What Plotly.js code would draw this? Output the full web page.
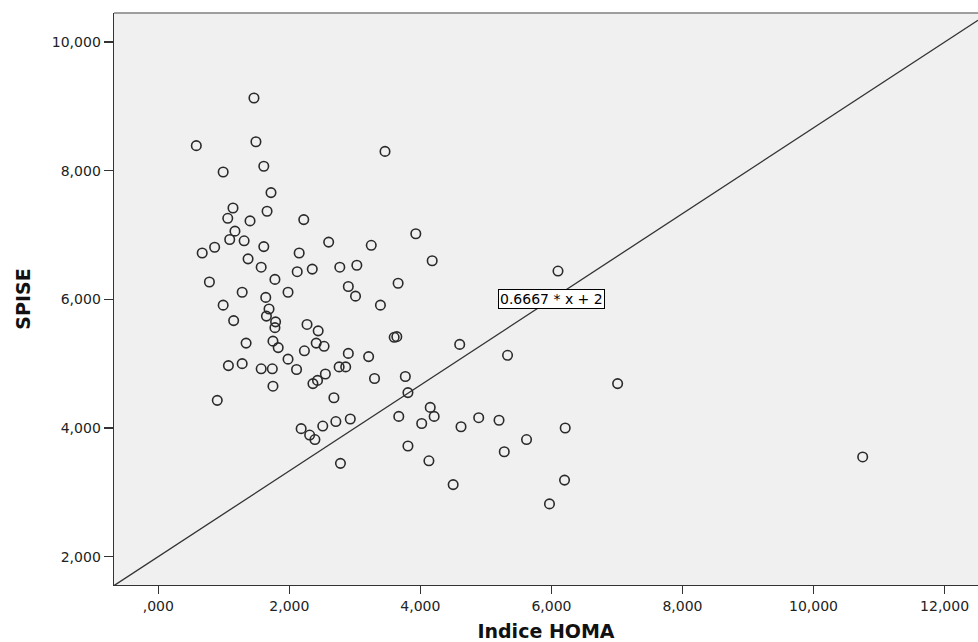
<!DOCTYPE html>
<html>
<head>
<meta charset="utf-8">
<script src="https://cdn.plot.ly/plotly-3.0.1.min.js"></script>
<style>
html,body{margin:0;padding:0;background:#fff;}
#chart{width:978px;height:642px;}
</style>
</head>
<body>
<div id="chart"></div>
<script>
// Indice HOMA (x) values
const homa = [
  1.46, 0.58, 1.49, 0.99, 1.61, 1.72, 1.14, 1.66, 1.06, 1.40,
  2.22, 1.17, 1.09, 1.31, 1.61, 0.86, 0.67, 2.15, 1.37, 1.57,
  2.12, 2.35, 1.78, 0.78, 3.46, 2.60, 3.93, 3.25, 2.77, 3.03,
  4.18, 2.90, 3.66, 3.01, 3.39, 2.27, 2.44, 3.60, 3.64, 1.28,
  1.98, 1.64, 0.99, 1.69, 1.65, 1.79, 1.78, 1.15, 1.34, 1.75,
  1.83, 2.23, 1.98, 1.07, 1.28, 1.57, 1.74, 2.11, 1.75, 0.90,
  2.18, 2.31, 4.60, 2.41, 2.53, 2.90, 3.21, 2.76, 2.86, 2.55,
  2.43, 2.36, 3.30, 3.77, 3.81, 2.68, 4.15, 4.21, 3.67, 4.02,
  4.62, 2.51, 2.71, 2.93, 2.39, 3.81, 2.78, 4.13, 4.50, 6.10,
  5.33, 7.01, 4.89, 5.20, 6.21, 5.62, 5.28, 6.20, 5.97, 10.75
];
// SPISE (y) values
const spise = [
  9.13, 8.39, 8.45, 7.98, 8.07, 7.66, 7.42, 7.37, 7.26, 7.22,
  7.24, 7.06, 6.93, 6.91, 6.82, 6.81, 6.72, 6.72, 6.63, 6.50,
  6.43, 6.47, 6.31, 6.27, 8.30, 6.89, 7.02, 6.84, 6.50, 6.53,
  6.60, 6.20, 6.25, 6.05, 5.91, 5.61, 5.51, 5.41, 5.42, 6.11,
  6.11, 6.03, 5.91, 5.85, 5.74, 5.65, 5.56, 5.67, 5.32, 5.35,
  5.25, 5.20, 5.07, 4.97, 5.00, 4.92, 4.92, 4.91, 4.65, 4.43,
  3.99, 3.89, 5.30, 5.32, 5.27, 5.16, 5.11, 4.95, 4.95, 4.84,
  4.74, 4.69, 4.77, 4.80, 4.55, 4.47, 4.32, 4.18, 4.18, 4.07,
  4.02, 4.03, 4.10, 4.14, 3.82, 3.72, 3.45, 3.49, 3.12, 6.44,
  5.13, 4.69, 4.16, 4.12, 4.00, 3.82, 3.63, 3.19, 2.82, 3.55
];
// Reference line y = slope * x + intercept
const slope = 0.6667;
const intercept = 2;
const lineLabel = ["0.6667 * x + 2"];

const xTickVals = [0, 2, 4, 6, 8, 10, 12];
const xTickText = [",000", "2,000", "4,000", "6,000", "8,000", "10,000", "12,000"];
const yTickVals = [2, 4, 6, 8, 10];
const yTickText = ["2,000", "4,000", "6,000", "8,000", "10,000"];

const xRange = [-0.676, 12.51];
const yRange = [1.559, 10.452];

const lineX = xRange.slice();
const lineY = lineX.map(v => slope * v + intercept);

const tickFont = {family: "DejaVu Sans", size: 14, color: "#222"};
const titleFont = {family: "DejaVu Sans", size: 19, color: "#111", weight: "bold"};

const traces = [
  {
    x: lineX, y: lineY, type: "scatter", mode: "lines",
    line: {color: "#333", width: 1.3},
    hoverinfo: "skip", showlegend: false
  },
  {
    x: homa, y: spise, type: "scatter", mode: "markers",
    marker: {symbol: "circle-open", size: 9.5, color: "#2a2a2a", line: {width: 1.6}},
    showlegend: false
  }
];

const layout = {
  width: 978, height: 642,
  margin: {l: 114, r: 0, t: 13, b: 57, pad: 0},
  paper_bgcolor: "#ffffff",
  plot_bgcolor: "#f0f0f0",
  showlegend: false,
  xaxis: {
    range: xRange, showgrid: false, zeroline: false,
    showline: true, linecolor: "#333", linewidth: 1.4,
    ticks: "outside", ticklen: 8, tickwidth: 1.4, tickcolor: "#333",
    tickvals: xTickVals, ticktext: xTickText, tickfont: tickFont,
    title: {text: "Indice HOMA", font: titleFont, standoff: 12}
  },
  yaxis: {
    range: yRange, showgrid: false, zeroline: false,
    showline: true, linecolor: "#333", linewidth: 1.4,
    ticks: "outside", ticklen: 9, tickwidth: 1.4, tickcolor: "#333",
    tickvals: yTickVals, ticktext: yTickText, tickfont: tickFont,
    title: {text: "SPISE", font: titleFont, standoff: 16}
  },
  shapes: [
    {type: "line", xref: "paper", yref: "paper", x0: 0, x1: 1, y0: 1, y1: 1,
     line: {color: "#808080", width: 1.5}}
  ],
  annotations: [
    {x: 6, y: 6, xref: "x", yref: "y", text: lineLabel[0], showarrow: false,
     font: {family: "DejaVu Sans", size: 14, color: "#000"},
     bgcolor: "#ffffff", bordercolor: "#000", borderwidth: 1, borderpad: 1}
  ]
};

Plotly.newPlot("chart", traces, layout, {displayModeBar: false, staticPlot: true});
</script>
</body>
</html>
